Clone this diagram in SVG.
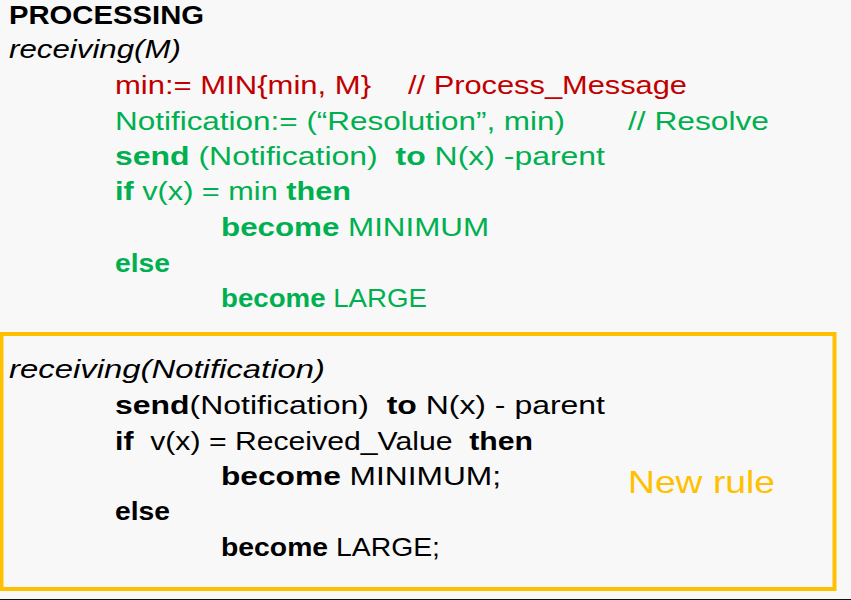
<svg xmlns="http://www.w3.org/2000/svg" width="851" height="600" viewBox="0 0 851 600">
<style>
text{font-family:"Liberation Sans","DejaVu Sans",sans-serif;font-size:26px;fill:#000;white-space:pre}
.b{font-weight:bold}
.i{font-style:italic}
.r{fill:#C00000}
.g{fill:#00B050}
.y{fill:#FFC000}
</style>
<rect x="0" y="0" width="851" height="600" fill="#F8F8F8"/>
<line x1="0" y1="599.5" x2="851" y2="599.5" stroke="#111" stroke-width="1"/>
<g id="processing">
<text class="b" x="9" y="24" textLength="195" lengthAdjust="spacingAndGlyphs">PROCESSING</text>
<text class="i" x="9" y="58" textLength="172" lengthAdjust="spacingAndGlyphs">receiving(M)</text>
<text class="r" x="115" y="94" textLength="256" lengthAdjust="spacingAndGlyphs">min:= MIN{min, M}</text>
<text class="r" x="408" y="94" textLength="279" lengthAdjust="spacingAndGlyphs">// Process_Message</text>
<text class="g" x="115" y="130" textLength="450" lengthAdjust="spacingAndGlyphs">Notification:= (“Resolution”, min)</text>
<text class="g" x="628" y="130" textLength="141" lengthAdjust="spacingAndGlyphs">// Resolve</text>
<text class="g" x="115" y="165" textLength="490" lengthAdjust="spacingAndGlyphs"><tspan class="b">send</tspan> (Notification)  <tspan class="b">to</tspan> N(x) -parent</text>
<text class="g" x="115" y="200" textLength="236" lengthAdjust="spacingAndGlyphs"><tspan class="b">if</tspan> v(x) = min <tspan class="b">then</tspan></text>
<text class="g" x="221" y="236" textLength="268" lengthAdjust="spacingAndGlyphs"><tspan class="b">become</tspan> MINIMUM</text>
<text class="g b" x="115" y="272" textLength="55" lengthAdjust="spacingAndGlyphs">else</text>
<text class="g" x="221" y="307" textLength="206" lengthAdjust="spacingAndGlyphs"><tspan class="b">become</tspan> LARGE</text>
</g>
<g id="new-rule">
<rect x="1.5" y="334" width="833" height="255" fill="none" stroke="#FFC000" stroke-width="4"/>
<text class="i" x="9" y="378" textLength="316" lengthAdjust="spacingAndGlyphs">receiving(Notification)</text>
<text x="115" y="414" textLength="490" lengthAdjust="spacingAndGlyphs"><tspan class="b">send</tspan>(Notification)  <tspan class="b">to</tspan> N(x) - parent</text>
<text x="115" y="450" textLength="418" lengthAdjust="spacingAndGlyphs"><tspan class="b">if</tspan>  v(x) = Received_Value  <tspan class="b">then</tspan></text>
<text x="221" y="485" textLength="280" lengthAdjust="spacingAndGlyphs"><tspan class="b">become</tspan> MINIMUM;</text>
<text class="b" x="115" y="520" textLength="55" lengthAdjust="spacingAndGlyphs">else</text>
<text x="221" y="556" textLength="219" lengthAdjust="spacingAndGlyphs"><tspan class="b">become</tspan> LARGE;</text>
<text class="y" x="628" y="493" style="font-size:32px" textLength="147" lengthAdjust="spacingAndGlyphs">New rule</text>
</g>
</svg>
